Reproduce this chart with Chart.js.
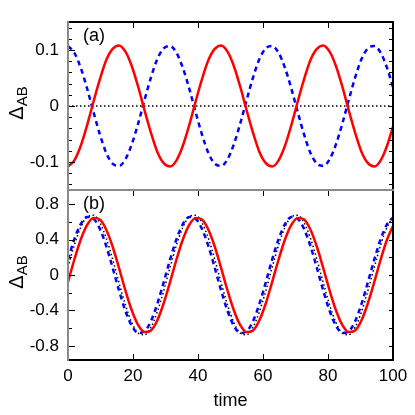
<!DOCTYPE html>
<html>
<head>
<meta charset="utf-8">
<script src="https://cdn.jsdelivr.net/npm/chart.js@4.4.0/dist/chart.umd.min.js"></script>
<style>
  body { margin: 0; background: #fff; }
  #wrapA { position: absolute; left: 0; top: 0; width: 415px; height: 192px; }
  #wrapB { position: absolute; left: 0; top: 188px; width: 415px; height: 227px; }
</style>
</head>
<body>
<div id="wrapA"><canvas id="chartA"></canvas></div>
<div id="wrapB"><canvas id="chartB"></canvas></div>
<script>
// time samples (shared by all curves)
const time = [0, 1.96, 3.93, 5.89, 7.85, 9.82, 11.78, 13.74, 15.71, 17.67, 19.64, 21.6, 23.56, 25.53, 27.49, 29.45,
  31.42, 33.38, 35.34, 37.31, 39.27, 41.23, 43.2, 45.16, 47.12, 49.09, 51.05, 53.01, 54.98, 56.94, 58.9, 60.87,
  62.83, 64.8, 66.76, 68.72, 70.69, 72.65, 74.61, 76.58, 78.54, 80.5, 82.47, 84.43, 86.39, 88.36, 90.32, 92.28,
  94.25, 96.21, 98.17, 100.14];

// panel (a)
const redA = [-0.108, -0.097, -0.071, -0.034, 0.008, 0.048, 0.082, 0.102, 0.108, 0.097, 0.071, 0.034, -0.008, -0.048, -0.082, -0.102,
  -0.108, -0.097, -0.071, -0.034, 0.008, 0.048, 0.082, 0.102, 0.108, 0.097, 0.071, 0.034, -0.008, -0.048, -0.082, -0.102,
  -0.108, -0.097, -0.071, -0.034, 0.008, 0.048, 0.082, 0.102, 0.108, 0.097, 0.071, 0.034, -0.008, -0.048, -0.082, -0.102,
  -0.108, -0.097, -0.071, -0.034];
const blueA = [0.107, 0.095, 0.068, 0.031, -0.011, -0.051, -0.084, -0.103, -0.107, -0.095, -0.068, -0.031, 0.011, 0.051, 0.084, 0.103,
  0.107, 0.095, 0.068, 0.031, -0.011, -0.051, -0.084, -0.103, -0.107, -0.095, -0.068, -0.031, 0.011, 0.051, 0.084, 0.103,
  0.107, 0.095, 0.068, 0.031, -0.011, -0.051, -0.084, -0.103, -0.107, -0.095, -0.068, -0.031, 0.011, 0.051, 0.084, 0.103,
  0.107, 0.095, 0.068, 0.031];
const zeroTime = [0, 100];
const zeroVal = [0, 0];

// panel (b)
const redB = [-0.078, 0.175, 0.401, 0.566, 0.645, 0.626, 0.511, 0.319, 0.078, -0.175, -0.401, -0.566, -0.645, -0.626, -0.511, -0.319,
  -0.078, 0.175, 0.401, 0.566, 0.645, 0.626, 0.511, 0.319, 0.078, -0.175, -0.401, -0.566, -0.645, -0.626, -0.511, -0.319,
  -0.078, 0.175, 0.401, 0.566, 0.645, 0.626, 0.511, 0.319, 0.078, -0.175, -0.401, -0.566, -0.645, -0.626, -0.511, -0.319,
  -0.078, 0.175, 0.401, 0.566];
const blueB = [0.176, 0.406, 0.574, 0.655, 0.636, 0.52, 0.325, 0.081, -0.176, -0.406, -0.574, -0.655, -0.636, -0.52, -0.325, -0.081,
  0.176, 0.406, 0.574, 0.655, 0.636, 0.52, 0.325, 0.081, -0.176, -0.406, -0.574, -0.655, -0.636, -0.52, -0.325, -0.081,
  0.176, 0.406, 0.574, 0.655, 0.636, 0.52, 0.325, 0.081, -0.176, -0.406, -0.574, -0.655, -0.636, -0.52, -0.325, -0.081,
  0.176, 0.406, 0.574, 0.655];
const dotB = [0.088, 0.339, 0.539, 0.657, 0.674, 0.589, 0.414, 0.177, -0.088, -0.339, -0.539, -0.657, -0.674, -0.589, -0.414, -0.177,
  0.088, 0.339, 0.539, 0.657, 0.674, 0.589, 0.414, 0.177, -0.088, -0.339, -0.539, -0.657, -0.674, -0.589, -0.414, -0.177,
  0.088, 0.339, 0.539, 0.657, 0.674, 0.589, 0.414, 0.177, -0.088, -0.339, -0.539, -0.657, -0.674, -0.589, -0.414, -0.177,
  0.088, 0.339, 0.539, 0.657];

// ticks
const timeTicks = [0, 20, 40, 60, 80, 100];
const aTicks = [-0.1, 0, 0.1];
const aMinor = [-0.14, -0.12, -0.1, -0.08, -0.06, -0.04, -0.02, 0, 0.02, 0.04, 0.06, 0.08, 0.1, 0.12, 0.14];
const bTicks = [-0.8, -0.4, 0, 0.4, 0.8];
const bMinor = [-0.8, -0.6, -0.4, -0.2, 0, 0.2, 0.4, 0.6, 0.8];

const FONT = '"Liberation Sans", Arial, sans-serif';

function pts(xs, ys) {
  return xs.map((x, i) => ({x: x, y: ys[i]}));
}

function drawYTitle(ctx, cx, cy) {
  const big = '20px ' + FONT, small = '15px ' + FONT;
  ctx.save();
  ctx.translate(cx, cy);
  ctx.rotate(-Math.PI / 2);
  ctx.fillStyle = '#000';
  ctx.textAlign = 'left';
  ctx.textBaseline = 'alphabetic';
  ctx.font = big;
  const w1 = ctx.measureText('\u0394').width;
  ctx.font = small;
  const w2 = ctx.measureText('AB').width;
  const start = -(w1 + w2) / 2;
  ctx.font = big;
  ctx.fillText('\u0394', start, 8);
  ctx.font = small;
  ctx.fillText('AB', start + w1, 12);
  ctx.restore();
}

function framePlugin(cfg) {
  return {
    id: 'frame',
    afterDatasetsDraw(chart) {
      const {ctx, chartArea: a} = chart;
      const xs = chart.scales.x, ys = chart.scales.y;
      ctx.save();
      ctx.strokeStyle = '#000';
      ctx.lineWidth = 1;
      const seg = (x1, y1, x2, y2) => { ctx.beginPath(); ctx.moveTo(x1, y1); ctx.lineTo(x2, y2); ctx.stroke(); };
      cfg.minor.forEach(v => {
        const y = Math.round(ys.getPixelForValue(v)) + 0.5;
        seg(a.left, y, a.left + 4, y);
        seg(a.right, y, a.right - 4, y);
      });
      cfg.major.forEach(v => {
        const y = Math.round(ys.getPixelForValue(v)) + 0.5;
        seg(a.left, y, a.left + 7, y);
      });
      timeTicks.slice(1, -1).forEach(v => {
        const x = Math.round(xs.getPixelForValue(v)) + 0.5;
        seg(x, a.top, x, a.top + 6);
        if (cfg.bottomTicks) seg(x, a.bottom, x, a.bottom - 6);
      });
      // borders
      ctx.lineWidth = 2;
      ctx.strokeStyle = '#000';
      seg(a.right, a.top - 1, a.right, a.bottom + 1);
      if (cfg.topColor === '#000') { seg(a.left, a.top, a.right + 1, a.top); }
      if (cfg.bottomColor === '#000') { seg(a.left, a.bottom, a.right + 1, a.bottom); }
      ctx.strokeStyle = '#8a8a8a';
      if (cfg.topColor !== '#000') { seg(a.left - 1, a.top, a.right + 1, a.top); }
      if (cfg.bottomColor !== '#000') { seg(a.left - 1, a.bottom, a.right + 1, a.bottom); }
      seg(a.left, a.top - 1, a.left, a.bottom + 1);
      // panel label
      ctx.fillStyle = '#000';
      ctx.font = '18px ' + FONT;
      ctx.textAlign = 'left';
      ctx.textBaseline = 'middle';
      ctx.fillText(cfg.label, 83, a.top + 14);
      drawYTitle(ctx, 15, cfg.titleY);
      ctx.restore();
    }
  };
}

function yScale(min, max, ticks) {
  return {
    type: 'linear',
    min: min,
    max: max,
    grid: {display: false, drawTicks: false},
    border: {display: false},
    afterBuildTicks: s => { s.ticks = ticks.map(v => ({value: v})); },
    afterFit: s => { s.width = 68; s.paddingTop = 0; s.paddingBottom = 0; },
    ticks: {
      padding: 9,
      color: '#000',
      font: {family: FONT, size: 17},
      callback: v => String(v)
    }
  };
}

new Chart(document.getElementById('chartA'), {
  type: 'line',
  data: {
    datasets: [
      {data: pts(time, redA), borderColor: '#ff0000', borderWidth: 2.5, pointRadius: 0, cubicInterpolationMode: 'monotone'},
      {data: pts(time, blueA), borderColor: '#0000ff', borderWidth: 2.5, borderDash: [5, 4], pointRadius: 0, cubicInterpolationMode: 'monotone'},
      {data: pts(zeroTime, zeroVal), borderColor: '#000', borderWidth: 1.5, borderDash: [1.5, 2.5], pointRadius: 0}
    ]
  },
  options: {
    responsive: true,
    maintainAspectRatio: false,
    animation: false,
    layout: {padding: {top: 22, right: 22, bottom: 2, left: 0}},
    plugins: {legend: {display: false}, tooltip: {enabled: false}},
    scales: {
      x: {type: 'linear', min: 0, max: 100, display: false},
      y: yScale(-0.15, 0.15, aTicks)
    }
  },
  plugins: [framePlugin({minor: aMinor, major: aTicks, bottomTicks: false, topColor: '#000', bottomColor: 'gray', label: '(a)', titleY: 103})]
});

new Chart(document.getElementById('chartB'), {
  type: 'line',
  data: {
    datasets: [
      {data: pts(time, redB), borderColor: '#ff0000', borderWidth: 2.5, pointRadius: 0, cubicInterpolationMode: 'monotone'},
      {data: pts(time, blueB), borderColor: '#0000ff', borderWidth: 2.5, borderDash: [5, 4], pointRadius: 0, cubicInterpolationMode: 'monotone'},
      {data: pts(time, dotB), borderColor: '#000', borderWidth: 1.5, borderDash: [1.5, 2.5], pointRadius: 0, cubicInterpolationMode: 'monotone'}
    ]
  },
  options: {
    responsive: true,
    maintainAspectRatio: false,
    animation: false,
    layout: {padding: {top: 2, right: 22, bottom: 0, left: 0}},
    plugins: {legend: {display: false}, tooltip: {enabled: false}},
    scales: {
      x: {
        type: 'linear',
        min: 0,
        max: 100,
        grid: {display: false, drawTicks: false},
        border: {display: false},
        afterBuildTicks: s => { s.ticks = timeTicks.map(v => ({value: v})); },
        afterFit: s => { s.height = 55; s.paddingLeft = 0; s.paddingRight = 0; },
        ticks: {padding: 6, color: '#000', maxRotation: 0, font: {family: FONT, size: 17}, callback: v => String(v)},
        title: {display: true, text: 'time', color: '#000', font: {family: FONT, size: 18}, padding: {top: 0, bottom: 3}}
      },
      y: yScale(-0.96, 0.96, bTicks)
    }
  },
  plugins: [framePlugin({minor: bMinor, major: bTicks, bottomTicks: true, topColor: 'gray', bottomColor: '#000', label: '(b)', titleY: 84})]
});
</script>
</body>
</html>
